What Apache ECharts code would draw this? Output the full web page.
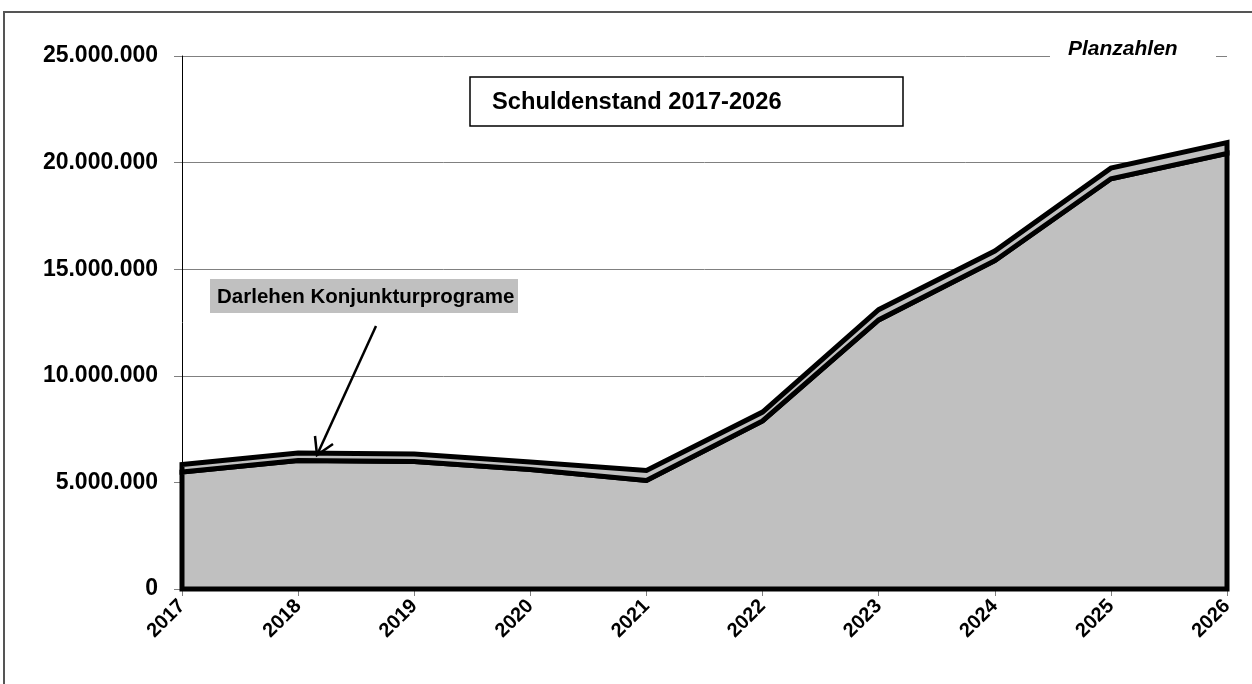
<!DOCTYPE html>
<html>
<head>
<meta charset="utf-8">
<script src="https://cdn.jsdelivr.net/npm/echarts@6/dist/echarts.min.js"></script>
<style>
html,body{margin:0;padding:0;background:#fff;}
#c{width:1252px;height:684px;}
</style>
</head>
<body>
<div id="c"></div>
<script>
// Data (EUR)
const years = ['2017','2018','2019','2020','2021','2022','2023','2024','2025','2026'];
const schulden = [5490000, 6030000, 5980000, 5600000, 5090000, 7880000, 12620000, 15400000, 19240000, 20430000];
const darlehen = [350000, 350000, 350000, 360000, 470000, 420000, 480000, 450000, 500000, 510000];
const yTicks = [0, 5000000, 10000000, 15000000, 20000000, 25000000];

const FONT = "'Liberation Sans', Arial, sans-serif";
function fmt(v){ return String(v).replace(/\B(?=(\d{3})+(?!\d))/g, '.'); }

const chart = echarts.init(document.getElementById('c'), null, {renderer:'canvas'});

const option = {
  backgroundColor: '#ffffff',
  animation: false,
  grid: {left: 182, right: 25, top: 56, bottom: 95, containLabel: false},
  xAxis: {
    type: 'category',
    data: years,
    boundaryGap: false,
    axisLine: {show: true, lineStyle: {color: '#000', width: 1}},
    axisTick: {show: true, length: 7, lineStyle: {color: '#808080', width: 1}},
    axisLabel: {
      rotate: 45, margin: 14, color: '#000',
      fontFamily: FONT, fontWeight: 'bold', fontSize: 20
    },
    splitLine: {show: false}
  },
  yAxis: {
    type: 'value',
    min: yTicks[0], max: yTicks[yTicks.length-1], interval: 5000000,
    axisLine: {show: true, lineStyle: {color: '#000', width: 1}},
    axisTick: {show: true, length: 8, lineStyle: {color: '#808080', width: 1}},
    axisLabel: {
      formatter: fmt, margin: 24, color: '#000',
      fontFamily: FONT, fontWeight: 'bold', fontSize: 23
    },
    splitLine: {show: true, lineStyle: {color: '#808080', width: 1}}
  },
  series: [{
    type: 'custom',
    clip: false,
    encode: {x: 0, y: [1, 2]},
    data: years.map((y, i) => [i, schulden[i], schulden[i] + darlehen[i]]),
    renderItem: function(params, api) {
      if (params.dataIndex !== 0) return null;
      const n = years.length;
      const lower = [], upper = [];
      for (let i = 0; i < n; i++) {
        lower.push(api.coord([i, schulden[i]]));
        upper.push(api.coord([i, schulden[i] + darlehen[i]]));
      }
      const base0 = api.coord([0, 0]);
      const baseN = api.coord([n - 1, 0]);
      const bottomPoly = [base0].concat(lower).concat([baseN]);
      const bandPoly = lower.concat(upper.slice().reverse());
      const st = {fill: '#c0c0c0', stroke: '#000', lineWidth: 5, lineJoin: 'miter'};
      return {
        type: 'group',
        children: [
          {type: 'polygon', shape: {points: bottomPoly}, style: st},
          {type: 'polygon', shape: {points: bandPoly}, style: st}
        ]
      };
    }
  }],
  graphic: [
    {type: 'rect', silent: true, z: 100, shape: {x: 4, y: 12, width: 1270, height: 700},
     style: {fill: 'none', stroke: '#555', lineWidth: 2}},
    {type: 'rect', silent: true, z: 100, shape: {x: 1050, y: 40, width: 166, height: 24},
     style: {fill: '#fff', stroke: 'none'}},
    {type: 'text', silent: true, z: 101, x: 1068, y: 49,
     style: {text: 'Planzahlen', font: "italic bold 21px 'Liberation Sans', Arial, sans-serif",
             fill: '#000', verticalAlign: 'middle', align: 'left'}},
    {type: 'rect', silent: true, z: 100, shape: {x: 470, y: 77, width: 433, height: 49},
     style: {fill: '#fff', stroke: '#000', lineWidth: 1.5}},
    {type: 'text', silent: true, z: 101, x: 492, y: 102,
     style: {text: 'Schuldenstand 2017-2026', font: "bold 23.7px 'Liberation Sans', Arial, sans-serif",
             fill: '#000', verticalAlign: 'middle', align: 'left'}},
    {type: 'rect', silent: true, z: 100, shape: {x: 210, y: 279, width: 308, height: 34},
     style: {fill: '#c0c0c0', stroke: 'none'}},
    {type: 'text', silent: true, z: 101, x: 217, y: 297,
     style: {text: 'Darlehen Konjunkturprograme', font: "bold 20.5px 'Liberation Sans', Arial, sans-serif",
             fill: '#000', verticalAlign: 'middle', align: 'left'}},
    {type: 'line', silent: true, z: 100, shape: {x1: 376, y1: 326, x2: 317, y2: 455},
     style: {stroke: '#000', lineWidth: 2.5}},
    {type: 'polyline', silent: true, z: 100, shape: {points: [[315, 436], [317, 455], [333, 444]]},
     style: {stroke: '#000', lineWidth: 2.5, fill: 'none'}}
  ]
};
chart.setOption(option);
</script>
</body>
</html>
